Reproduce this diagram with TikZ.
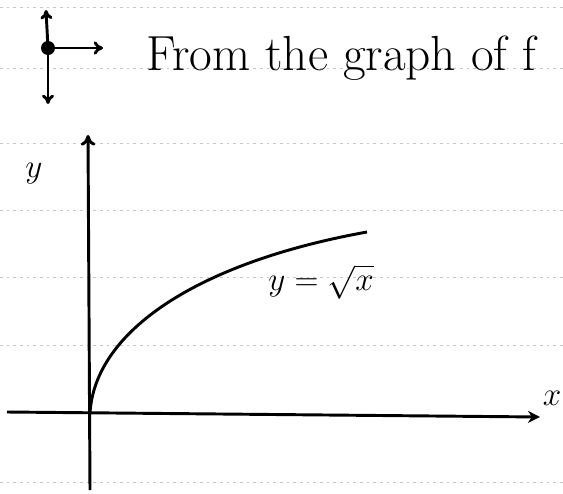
\documentclass[tikz,border=0pt]{standalone}
\usetikzlibrary{arrows.meta}
\tikzset{every picture/.style={line width=2.2pt}}
\tikzset{
  ruleline/.style={color=gray!45,line width=0.6pt,dash pattern={on 2pt off 3pt}},
  handtext/.style={inner sep=0pt,font=\fontsize{40}{48}\selectfont},
}
\begin{document}
\begin{tikzpicture}[x=0.75pt,y=0.75pt,yscale=-1,xscale=1]
    \useasboundingbox (0,0) rectangle (563,493);
    % paper rulings
    \foreach \ry in {7,68,143,210,277,345,482}
      \draw [ruleline] (0,\ry) -- (563,\ry);

    % small axes sign before the heading
    \coordinate (dot) at (48,48);
    \coordinate (up) at (46,10);
    \coordinate (down) at (48,104);
    \coordinate (right) at (103,48);
    \draw [-{To[length=7pt,width=9pt]}] (dot) -- (up);
    \draw [-{To[length=7pt,width=9pt]}] (dot) -- (down);
    \draw [-{To[length=7pt,width=10pt]}] (dot) -- (right);
    \fill (dot) circle (7);

    % Text Node
    \node [handtext,anchor=base west,font=\fontsize{37}{44}\selectfont] (heading) at (145,70) {From the graph of f};

    % axes
    \coordinate (O) at (90,413);
    \coordinate (ytop) at (88,135);
    \coordinate (ybot) at (90,490);
    \coordinate (xleft) at (7,412);
    \coordinate (xright) at (540,417);
    \draw [-{To[length=8pt,width=11pt]}] (ybot) -- (ytop);
    \draw [-{Stealth[length=9pt,width=9pt]}] (xleft) -- (xright);

    % curve y = sqrt x
    \draw (O) .. controls (95,330) and (200,262) .. (367,232);

    % Text Node
    \node [handtext] (ylabel) at (34,174) {$y$};
    % Text Node
    \node [handtext,font=\fontsize{30}{36}\selectfont] (xlabel) at (552,398) {$x$};
    % Text Node
    \node [handtext] (curvelabel) at (321,282) {$y=\sqrt{x}$};
\end{tikzpicture}
\end{document}
